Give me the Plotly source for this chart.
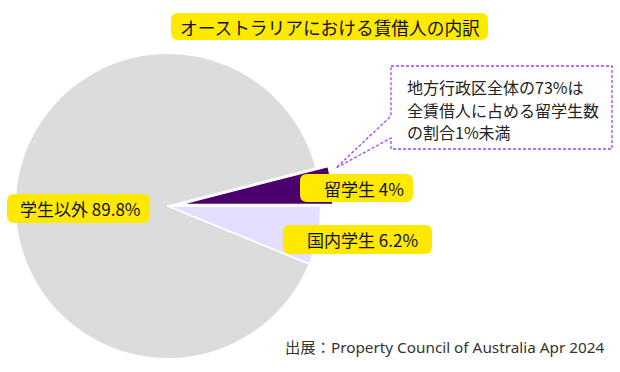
import plotly.graph_objects as go

# ---- data ----
labels = ["留学生", "学生以外", "国内学生"]
values = [4.0, 89.8, 6.2]
slice_colors = ["#4B006E", "#DCDCDC", "#E6DEFF"]
title_text = "オーストラリアにおける賃借人の内訳"
note_lines = ["地方行政区全体の73%は", "全賃借人に占める留学生数", "の割合1%未満"]
source_text = "出展：Property Council of Australia Apr 2024"

W, H = 620, 372
FONT = "Noto Sans CJK JP"
YELLOW = "#FFE900"


def px(x):
    return x / W


def py(y):
    return 1 - y / H


def rounded_rect(x0, y0, x1, y1, r=6):
    pts = [
        f"M {px(x0 + r)},{py(y0)}",
        f"L {px(x1 - r)},{py(y0)}",
        f"Q {px(x1)},{py(y0)} {px(x1)},{py(y0 + r)}",
        f"L {px(x1)},{py(y1 - r)}",
        f"Q {px(x1)},{py(y1)} {px(x1 - r)},{py(y1)}",
        f"L {px(x0 + r)},{py(y1)}",
        f"Q {px(x0)},{py(y1)} {px(x0)},{py(y1 - r)}",
        f"L {px(x0)},{py(y0 + r)}",
        f"Q {px(x0)},{py(y0)} {px(x0 + r)},{py(y0)}",
        "Z",
    ]
    return " ".join(pts)


# first slice sits just above the 3 o'clock line, the rest continues counterclockwise
first_angle = 360 * values[0] / sum(values)

fig = go.Figure()
fig.add_trace(go.Pie(
    labels=labels,
    values=values,
    sort=False,
    direction="counterclockwise",
    rotation=90 - first_angle,
    pull=[0.08, 0, 0],
    marker=dict(colors=slice_colors, line=dict(color="white", width=1.5)),
    textinfo="none",
    hoverinfo="label+percent",
    showlegend=False,
    domain=dict(x=[3 / W, 333 / W], y=[0, 1 - 40 / H]),
))

shapes = []
annotations = []

# title
shapes.append(dict(type="path", path=rounded_rect(171, 13, 488, 40, 7),
                   xref="paper", yref="paper", fillcolor=YELLOW,
                   line=dict(width=0), layer="above"))
annotations.append(dict(text=title_text, x=px(330), y=py(27), xref="paper", yref="paper",
                        xanchor="center", yanchor="middle", showarrow=False,
                        font=dict(family=FONT, size=17.7, color="#111111")))

# slice labels
label_boxes = {
    "学生以外": (7, 194, 150, 223, 143),
    "留学生": (300, 174, 413, 202, 406),
    "国内学生": (283, 225, 432, 254, 420),
}
for lab, val in zip(labels, values):
    x0, y0, x1, y1, tx = label_boxes[lab]
    shapes.append(dict(type="path", path=rounded_rect(x0, y0, x1, y1, 7),
                       xref="paper", yref="paper", fillcolor=YELLOW,
                       line=dict(width=0), layer="above"))
    annotations.append(dict(text=f"{lab} {val:g}%", x=px(tx), y=py((y0 + y1) / 2),
                            xref="paper", yref="paper", xanchor="right", yanchor="middle",
                            showarrow=False,
                            font=dict(family=FONT, size=17, color="#111111")))

# callout box with pointer
callout = [(391, 66), (612, 66), (612, 149), (391, 149), (391, 138), (336, 168), (391, 116)]
path = "M " + " L ".join(f"{px(x)},{py(y)}" for x, y in callout) + " Z"
shapes.append(dict(type="path", path=path, xref="paper", yref="paper",
                   fillcolor="rgba(255,255,255,0)",
                   line=dict(color="#A640F5", width=1.3, dash="3px,2px"), layer="above"))
for line_text, ly in zip(note_lines, [87, 110, 132]):
    annotations.append(dict(text=line_text, x=px(405), y=py(ly),
                            xref="paper", yref="paper", xanchor="left", yanchor="middle",
                            align="left", showarrow=False,
                            font=dict(family=FONT, size=16, color="#222222")))

# source
annotations.append(dict(text=source_text, x=px(606), y=py(347), xref="paper", yref="paper",
                        xanchor="right", yanchor="middle", showarrow=False,
                        font=dict(family="Noto Sans, Noto Sans CJK JP", size=15.3,
                                  color="#333333")))

fig.update_layout(
    width=W, height=H, autosize=False,
    margin=dict(l=0, r=0, t=0, b=0),
    paper_bgcolor="white", plot_bgcolor="white",
    shapes=shapes, annotations=annotations,
)

fig.write_html("out.html", config={"displayModeBar": False},
               post_script="document.body.style.margin='0';document.body.style.overflow='hidden';")
